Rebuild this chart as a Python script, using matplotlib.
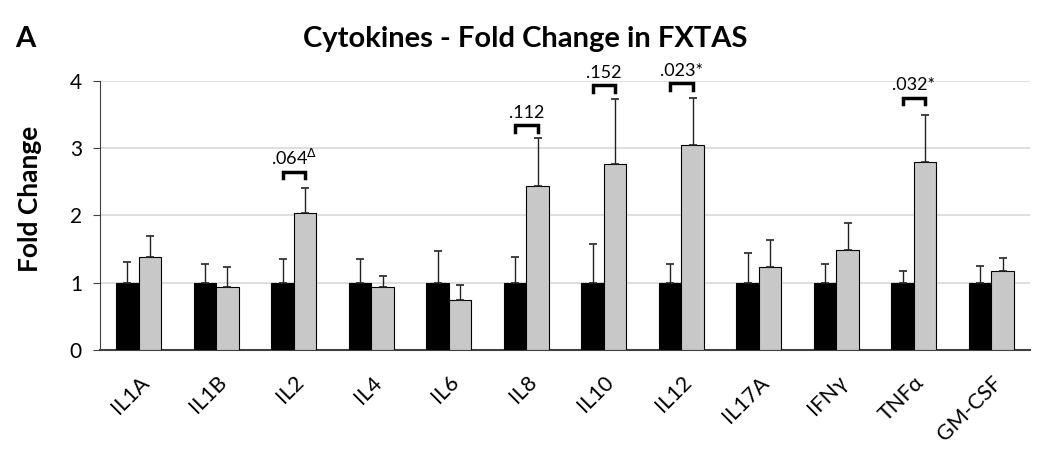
import matplotlib
matplotlib.use("Agg")
import matplotlib.pyplot as plt
import numpy as np

plt.rcParams['font.family'] = ['Lato', 'DejaVu Sans']

cytokines = ['IL1A', 'IL1B', 'IL2', 'IL4', 'IL6', 'IL8', 'IL10', 'IL12',
             'IL17A', 'IFNγ', 'TNFα', 'GM-CSF']
control_mean = [1, 1, 1, 1, 1, 1, 1, 1, 1, 1, 1, 1]
control_err = [0.30, 0.28, 0.35, 0.35, 0.47, 0.38, 0.57, 0.28, 0.44, 0.28, 0.18, 0.25]
fxtas_mean = [1.38, 0.93, 2.04, 0.93, 0.74, 2.43, 2.76, 3.05, 1.24, 1.49, 2.79, 1.17]
fxtas_err = [0.32, 0.30, 0.37, 0.17, 0.22, 0.72, 0.97, 0.70, 0.40, 0.39, 0.70, 0.20]

# p-value brackets: category index, bracket height, label
sig_idx = [2, 5, 6, 7, 10]
sig_y = [2.65, 3.34, 3.93, 3.96, 3.75]
sig_label = [r'.064$^{\Delta}$', '.112', '.152', '.023*', '.032*']

fig = plt.figure(figsize=(10.5, 4.61), dpi=100)
ax = fig.add_axes([0.0952, 0.2408, 0.886, 0.5842])

x = np.arange(len(cytokines))
w = 0.29
ax.bar(x - w / 2, control_mean, w, color='black', edgecolor='black', linewidth=0.8, zorder=3)
ax.bar(x + w / 2, fxtas_mean, w, color='#c8c8c8', edgecolor='black', linewidth=0.8, zorder=3)
ax.errorbar(x - w / 2, control_mean, yerr=[np.zeros(len(x)), control_err], fmt='none',
            ecolor='#222222', elinewidth=1, capsize=3, capthick=1.2, zorder=4)
ax.errorbar(x + w / 2, fxtas_mean, yerr=[np.zeros(len(x)), fxtas_err], fmt='none',
            ecolor='#222222', elinewidth=1, capsize=3, capthick=1.2, zorder=4)

for i, yb, lab in zip(sig_idx, sig_y, sig_label):
    ax.plot([i - w / 2, i - w / 2, i + w / 2, i + w / 2], [yb - 0.1, yb, yb, yb - 0.1],
            color='black', lw=2.5, clip_on=False, zorder=5, solid_joinstyle='miter')
    ax.text(i, yb + 0.06, lab, ha='center', va='bottom', fontsize=13, clip_on=False)

ax.set_xlim(-0.5, len(cytokines) - 0.5)
ax.set_ylim(0, 4)
ax.set_yticks([0, 1, 2, 3, 4])
ax.yaxis.grid(True, color='#d9d9d9', linewidth=1.2, zorder=0)
ax.set_axisbelow(True)
for s in ['top', 'right']:
    ax.spines[s].set_visible(False)
ax.spines['left'].set_color('#404040')
ax.spines['bottom'].set_color('#404040')
ax.spines['bottom'].set_linewidth(1.5)
ax.tick_params(axis='y', labelsize=15, length=5, color='#404040', pad=8)
ax.tick_params(axis='x', length=0, pad=16)
ax.set_xticks(x)
ax.set_xticklabels(cytokines, rotation=45, ha='right', rotation_mode='anchor', fontsize=15.5)
ax.set_ylabel('Fold Change', fontsize=19, fontweight='bold')
ax.yaxis.set_label_coords(-0.062, 0.56)

fig.text(0.5, 0.915, 'Cytokines - Fold Change in FXTAS', ha='center', va='center',
         fontsize=21, fontweight='bold')
fig.text(0.014, 0.915, 'A', ha='left', va='center', fontsize=21, fontweight='bold')

fig.savefig('out.png', dpi=100)
